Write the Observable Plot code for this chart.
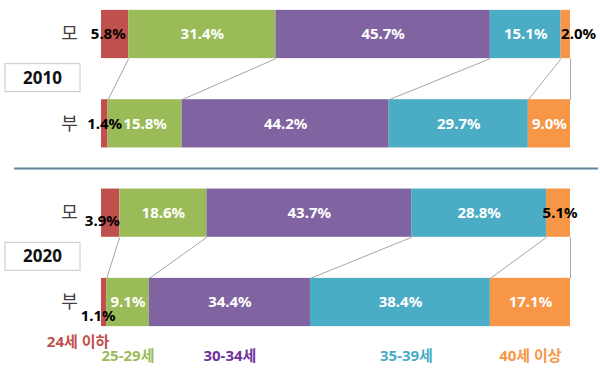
<!DOCTYPE html>
<html>
<head>
<meta charset="utf-8">
<script src="https://cdn.jsdelivr.net/npm/d3@7"></script>
<script src="https://cdn.jsdelivr.net/npm/@observablehq/plot@0.6"></script>
<style>
  html, body { margin: 0; padding: 0; background: #fff; }
  #chart { width: 600px; height: 375px; }
</style>
</head>
<body>
<div id="chart"></div>
<script>
// ---- data ----
const rowKeys = ["2010 모", "2010 부", "2020 모", "2020 부"];
const rowLabels = ["모", "부", "모", "부"];
const years = ["2010", "2020"];
const groups = ["24세 이하", "25-29세", "30-34세", "35-39세", "40세 이상"];
const mother2010 = [5.8, 31.4, 45.7, 15.1, 2.0];
const father2010 = [1.4, 15.8, 44.2, 29.7, 9.0];
const mother2020 = [3.9, 18.6, 43.7, 28.8, 5.1];
const father2020 = [1.1, 9.1, 34.4, 38.4, 17.1];
const barColors = ["#C0504D", "#9BBB59", "#8064A2", "#4BACC6", "#F79646"];
const legendColors = ["#C0504D", "#9BBB59", "#7030A0", "#4BACC6", "#F79646"];

const series = [mother2010, father2010, mother2020, father2020];
const H = 0.27; // half bar thickness in row units

// ---- build table ----
const table = [];
series.forEach((vals, row) => {
  const total = d3.sum(vals);
  let cum = 0;
  vals.forEach((v, j) => {
    const x1 = cum / total * 100;
    cum += v;
    const x2 = cum / total * 100;
    table.push({row, key: rowKeys[row], group: groups[j], j, value: v, x1, x2, mid: (x1 + x2) / 2,
                y1: row - H, y2: row + H});
  });
});

// connectors between paired bars
const links = [];
[[0, 1], [2, 3]].forEach(([a, b]) => {
  groups.forEach((g, j) => {
    const up = table.find(d => d.row === a && d.j === j);
    const lo = table.find(d => d.row === b && d.j === j);
    links.push({x1: up.x2, x2: lo.x2, y1: a + H, y2: b - H});
  });
});

const inside = table.filter(d => d.value >= 6);
const outside = table.filter(d => d.value < 6);
// label nudges (style) for small outside labels
const nudge = {"0-0": [-3, 0], "1-0": [14, 0], "2-0": [0, 8], "3-0": [9, 14], "0-4": [0, 0], "2-4": [-4, 0]};

const font = '"Noto Sans", "Noto Sans CJK KR", sans-serif';
const yearBoxes = years.map((y, i) => ({year: y, y: i * 2 + 0.5}));
const rowsIdx = rowLabels.map((l, i) => ({label: l, y: i}));

const marks = [
  Plot.ruleY([1.5], {stroke: "#5F8497", strokeWidth: 2}),
  Plot.rect(yearBoxes, {y1: "y", y2: "y",
    insetTop: -15, insetBottom: -13, insetLeft: -9, insetRight: 518,
    fill: "white", stroke: "#C8C8C8", strokeWidth: 1}),
  Plot.text(yearBoxes, {frameAnchor: "left", y: "y", text: "year", textAnchor: "middle",
    dx: 28, dy: -1, fontSize: 17, fontWeight: "bold", fill: "#111"}),
  Plot.text(rowsIdx, {frameAnchor: "left", y: "y", text: "label", textAnchor: "middle",
    dx: 55, fontSize: 18, fill: "#404040"}),
  Plot.link(links, {x1: "x1", x2: "x2", y1: "y1", y2: "y2", stroke: "#A6A6A6", strokeWidth: 1}),
  Plot.rectX(table, {x1: "x1", x2: "x2", y1: "y1", y2: "y2", fill: "group"}),
  Plot.text(inside, {x: "mid", y: "row", text: d => d.value.toFixed(1) + "%",
    fill: "white", fontSize: 15, fontWeight: "bold"}),
  ...outside.map(d => {
    const n = nudge[d.row + "-" + d.j] || [0, 0];
    const first = d.j === 0;
    return Plot.text([d], {x: first ? "x2" : "x1", y: "row", text: e => e.value.toFixed(1) + "%",
      textAnchor: first ? "end" : "start", dx: n[0], dy: n[1],
      fill: "#000", fontSize: 15, fontWeight: "bold"});
  }),
  // legend under the last bar's segments
  ...table.filter(d => d.row === 3).map(d => Plot.text([d], {
    x: "mid", y: "row", text: "group",
    dx: d.j === 0 ? -26 : (d.j === 3 ? 6 : 0), dy: d.j === 0 ? 40 : 54,
    fill: legendColors[d.j], fontSize: 15, fontWeight: "bold"}))
];

const chart = Plot.plot({
  width: 600,
  height: 375,
  marginLeft: 14,
  marginRight: 2,
  marginTop: 0,
  marginBottom: 0,
  style: {fontFamily: font, background: "white", overflow: "visible"},
  x: {type: "linear", domain: [0, 100], range: [101, 570], axis: null},
  y: {type: "linear", domain: [0, 3], range: [34, 302], axis: null},
  color: {domain: groups, range: barColors},
  marks
});
document.getElementById("chart").appendChild(chart);
</script>
</body>
</html>
